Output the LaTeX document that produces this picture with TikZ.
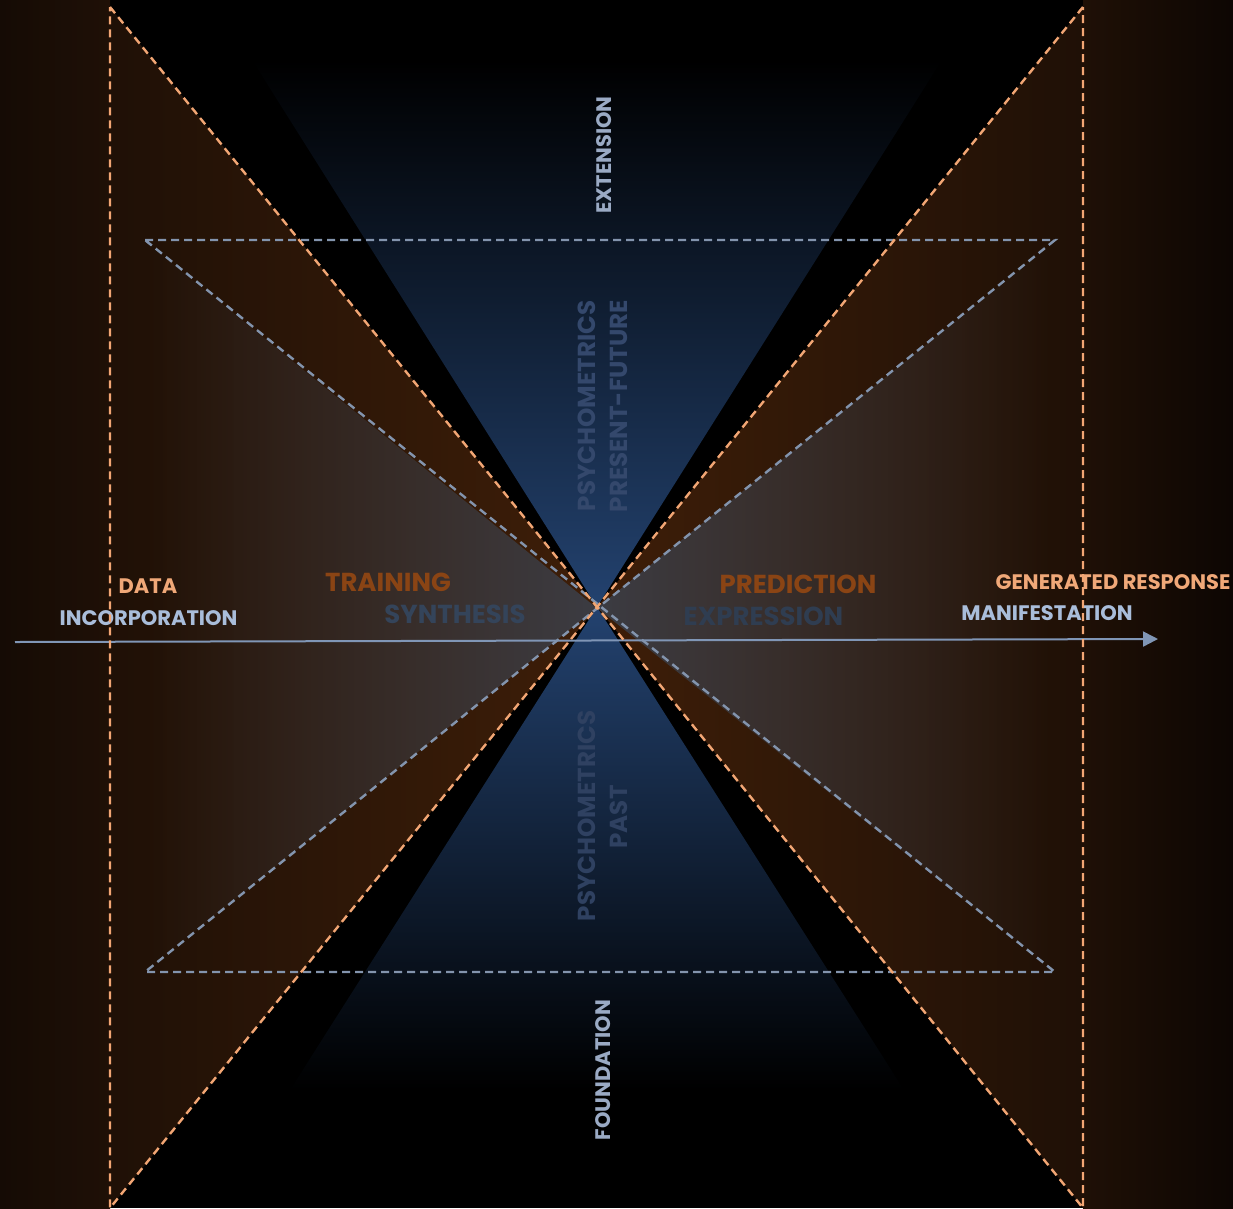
\documentclass[tikz,border=0pt]{standalone}
\usepackage{fontspec}
\setmainfont{Poppins}
\usetikzlibrary{arrows.meta, fadings}
\definecolor{panelbrown}{HTML}{1F1006}
\definecolor{paneldark}{HTML}{150B05}
\definecolor{panelend}{HTML}{0D0603}
\definecolor{emberbrown}{HTML}{3E1E08}
\definecolor{coneblue}{HTML}{23426F}
\definecolor{conemid}{HTML}{121B2B}
\definecolor{mistgrey}{HTML}{3B3C43}
\definecolor{edgeorange}{HTML}{F2A674}
\definecolor{edgegrey}{HTML}{8394AD}
\definecolor{axisblue}{HTML}{8096B6}
\definecolor{peach}{HTML}{F0A878}
\definecolor{paleblue}{HTML}{A9BDDA}
\definecolor{rust}{HTML}{8A4414}
\definecolor{slate}{HTML}{34445A}
\definecolor{ghostblue}{HTML}{34486C}
\definecolor{steel}{HTML}{9AAAC4}
\tikzfading[name=fadeleft, left color=transparent!100, middle color=transparent!82, right color=transparent!0]
\tikzfading[name=faderight, left color=transparent!0, middle color=transparent!82, right color=transparent!100]

\begin{document}
\begin{tikzpicture}[x=1pt, y=-1pt,
    orangeedge/.style={edgeorange, line width=2.4pt, dash pattern=on 8pt off 5pt},
    greyedge/.style={edgegrey, line width=2.4pt, dash pattern=on 8pt off 5pt},
    lbl/.style={inner sep=0pt, font=\bfseries\fontsize{21}{21}\selectfont},
    biglbl/.style={inner sep=0pt, font=\bfseries\fontsize{26}{26}\selectfont},
    ghostlbl/.style={inner sep=0pt, rotate=90, font=\bfseries\fontsize{24.6}{24.6}\selectfont}]
    \useasboundingbox (0,0) rectangle (1233,1208);
    % corner points
    \coordinate (c) at (597,607);
    \coordinate (otl) at (110,7);
    \coordinate (obl) at (110,1208);
    \coordinate (otr) at (1083,7);
    \coordinate (obr) at (1083,1208);
    \coordinate (gtl) at (145,240);
    \coordinate (gtr) at (1055,240);
    \coordinate (gbl) at (145,972);
    \coordinate (gbr) at (1055,972);
    \coordinate (btl) at (252,60);
    \coordinate (btr) at (942,60);
    \coordinate (bbl) at (290,1090);
    \coordinate (bbr) at (904,1090);
    \coordinate (axisstart) at (15,642);
    \coordinate (axisend) at (1158,639);

    % background and side panels
    \fill[black] (0,0) rectangle (1233,1208);
    \shade[left color=paneldark, right color=panelbrown] (0,0) rectangle (110,1208);
    \shade[left color=panelbrown, right color=panelend] (1083,0) rectangle (1233,1208);

    % orange cones
    \shade[left color=panelbrown, right color=emberbrown] (otl) -- (c) -- (obl) -- cycle;
    \shade[left color=emberbrown, right color=panelbrown] (c) -- (otr) -- (obr) -- cycle;

    % blue hourglass
    \shade[top color=black, middle color=conemid, bottom color=coneblue] (btl) -- (btr) -- (c) -- cycle;
    \shade[top color=coneblue, middle color=conemid, bottom color=black] (c) -- (bbr) -- (bbl) -- cycle;

    % grey wedges
    \fill[mistgrey, path fading=fadeleft] (gtl) -- (c) -- (gbl) -- cycle;
    \fill[mistgrey, path fading=faderight] (gtr) -- (c) -- (gbr) -- cycle;

    % labels
    \node[lbl, text=peach] (data) at (148,586.5) {DATA};
    \node[lbl, text=paleblue] (incorporation) at (148.5,618) {INCORPORATION};
    \node[biglbl, text=rust] (training) at (388,582.5) {TRAINING};
    \node[biglbl, text=slate] (synthesis) at (455,614) {SYNTHESIS};
    \node[biglbl, text=rust] (prediction) at (798,584) {PREDICTION};
    \node[biglbl, text=slate!90!black] (expression) at (763.5,616) {EXPRESSION};
    \node[lbl, text=peach] (generated) at (1113,582.5) {GENERATED RESPONSE};
    \node[lbl, text=paleblue] (manifestation) at (1047,613.5) {MANIFESTATION};
    \node[lbl, text=steel, rotate=90] (extension) at (604.5,155) {EXTENSION};
    \node[ghostlbl, text=ghostblue] (psychtop) at (586.5,406) {PSYCHOMETRICS};
    \node[ghostlbl, text=ghostblue] (presentfuture) at (619,406) {PRESENT-FUTURE};
    \node[ghostlbl, text=ghostblue!90!black] (psychbottom) at (586.5,816) {PSYCHOMETRICS};
    \node[ghostlbl, text=ghostblue!90!black] (past) at (619,817) {PAST};
    \node[lbl, text=steel, rotate=90] (foundation) at (603,1070) {FOUNDATION};

    % axis
    \draw[axisblue, line width=2pt, -{Triangle[length=15pt, width=15pt]}] (axisstart) -- (axisend);

    % dashed outlines
    \draw[greyedge] (gtl) -- (gtr) -- (gbl) -- (gbr) -- cycle;
    \draw[orangeedge] (otl) -- (c) -- (obl) -- cycle;
    \draw[orangeedge] (otr) -- (c) -- (obr) -- cycle;
\end{tikzpicture}
\end{document}
